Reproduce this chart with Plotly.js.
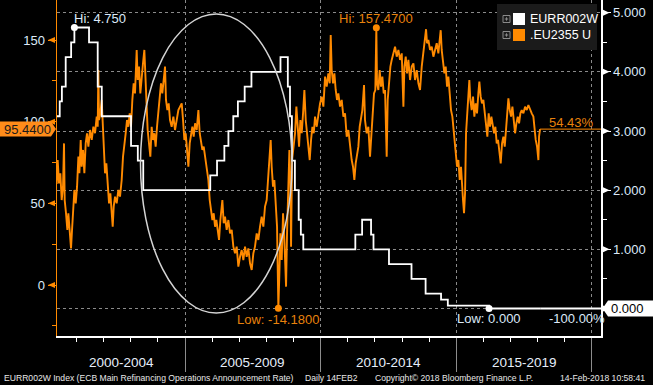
<!DOCTYPE html>
<html><head><meta charset="utf-8">
<script src="https://cdn.plot.ly/plotly-3.0.1.min.js"></script>
<style>html,body{margin:0;padding:0;background:#000;}#chart{width:653px;height:385px;}</style>
</head><body><div id="chart"></div>
<script>
// .EU2355 U (left axis) — decimal years and values
const spreadDates = [
2000.268,2000.305,2000.354,2000.403,2000.452,2000.501,2000.538,2000.563,2000.612,2000.661,2000.698,2000.747,2000.796,2000.833,2000.883,2000.919,2000.969,
2001.018,2001.067,2001.104,2001.153,2001.190,2001.239,2001.288,2001.337,2001.386,2001.436,2001.497,2001.559,2001.620,2001.681,2001.743,2001.780,2001.804,2001.829,2001.878,2001.927,2001.964,
2002.013,2002.050,2002.099,2002.149,2002.198,2002.247,2002.296,2002.333,2002.370,2002.419,2002.480,2002.542,2002.603,2002.665,2002.714,2002.763,2002.812,2002.861,2002.910,2002.960,
2003.009,2003.058,2003.107,2003.156,2003.218,2003.255,2003.304,2003.353,2003.402,2003.451,2003.501,2003.537,2003.587,2003.623,2003.673,2003.722,2003.771,2003.820,2003.869,2003.918,2003.968,
2004.017,2004.066,2004.115,2004.164,2004.213,2004.263,2004.299,2004.349,2004.398,2004.447,2004.508,2004.570,2004.631,2004.693,2004.754,2004.816,2004.877,2004.926,2004.975,
2005.024,2005.074,2005.123,2005.172,2005.221,2005.270,2005.319,2005.369,2005.430,2005.492,2005.541,2005.590,2005.639,2005.688,2005.737,2005.799,2005.860,2005.910,2005.959,
2006.008,2006.057,2006.106,2006.155,2006.204,2006.254,2006.303,2006.377,2006.426,2006.475,2006.536,2006.598,2006.659,2006.721,2006.782,2006.844,2006.905,2006.967,
2007.028,2007.090,2007.151,2007.213,2007.274,2007.336,2007.397,2007.459,2007.520,2007.581,2007.643,2007.704,2007.766,2007.827,2007.889,2007.950,
2008.012,2008.073,2008.122,2008.159,2008.196,2008.245,2008.294,2008.343,2008.393,2008.417,2008.442,2008.479,2008.516,2008.565,2008.614,2008.663,2008.725,2008.761,2008.810,2008.847,2008.884,2008.909,2008.946,2008.995,
2009.056,2009.105,2009.155,2009.204,2009.253,2009.302,2009.351,2009.400,2009.450,2009.499,2009.548,2009.597,2009.646,2009.696,2009.745,2009.794,2009.855,2009.917,2009.978,
2010.040,2010.101,2010.163,2010.224,2010.285,2010.335,2010.372,2010.408,2010.458,2010.507,2010.556,2010.605,2010.654,2010.716,2010.777,2010.839,2010.900,2010.962,
2011.023,2011.084,2011.146,2011.195,2011.244,2011.293,2011.343,2011.392,2011.441,2011.490,2011.539,2011.601,2011.637,2011.699,2011.760,2011.822,2011.871,2011.920,2011.969,
2012.018,2012.055,2012.080,2012.129,2012.178,2012.227,2012.277,2012.326,2012.375,2012.436,2012.473,2012.523,2012.572,2012.621,2012.682,2012.744,2012.805,2012.867,2012.928,2012.990,
2013.051,2013.088,2013.137,2013.186,2013.235,2013.297,2013.358,2013.420,2013.481,2013.543,2013.604,2013.665,2013.727,2013.788,2013.850,2013.887,2013.923,2013.973,
2014.034,2014.096,2014.157,2014.218,2014.280,2014.341,2014.391,2014.427,2014.464,2014.513,2014.563,2014.612,2014.661,2014.710,2014.759,2014.808,2014.858,2014.907,2014.944,2014.980,
2015.030,2015.079,2015.128,2015.177,2015.214,2015.251,2015.288,2015.325,2015.362,2015.398,2015.448,2015.484,2015.521,2015.570,2015.620,2015.669,2015.718,2015.767,2015.816,2015.853,2015.902,2015.951,
2016.001,2016.050,2016.099,2016.148,2016.197,2016.246,2016.296,2016.345,2016.394,2016.443,2016.492,2016.541,2016.591,2016.640,2016.689,2016.738,2016.787,2016.836,2016.886,2016.922,2016.972,
2017.021,2017.070,2017.119,2017.168,2017.217,2017.267,2017.316,2017.365,2017.414,2017.476,2017.537,2017.599,2017.660,2017.722,2017.783,2017.844,2017.881,2017.930,2017.980,
2018.029,2018.053,2018.090];
const spreadValues = [
61.8,76.5,62.2,68.4,52.0,60.2,86.7,52.0,43.9,33.7,43.9,29.6,22.4,33.7,52.0,58.2,50.0,
60.2,78.6,68.4,88.8,72.4,82.7,68.4,86.7,92.9,84.7,94.9,88.8,96.9,92.9,103.1,96.9,131.6,101.0,105.1,113.3,96.9,
78.6,68.4,74.5,60.2,50.0,56.1,43.9,35.7,48.0,54.1,50.0,58.2,54.1,64.3,78.6,84.7,92.9,101.0,96.9,105.1,
96.9,113.3,123.5,117.3,143.9,125.5,133.7,117.3,129.6,135.7,143.9,123.5,109.2,94.9,84.7,78.6,96.9,88.8,92.9,84.7,96.9,
107.1,115.3,123.5,117.3,125.5,133.7,113.3,107.1,111.2,101.0,96.9,103.1,94.9,101.0,107.1,109.2,111.2,101.0,88.8,
92.9,82.7,72.4,86.7,92.9,96.9,90.8,99.0,94.9,107.1,92.9,88.8,82.7,84.7,78.6,70.4,64.3,52.0,46.0,
39.8,43.9,35.7,39.8,31.6,27.6,39.8,52.0,37.8,41.8,33.7,39.8,31.6,33.7,23.5,19.4,23.5,11.2,
17.3,21.4,15.3,23.5,17.3,22.4,13.3,9.2,19.4,23.5,31.6,27.6,35.7,41.8,35.7,48.0,
52.0,68.4,76.5,88.8,72.4,60.2,64.3,52.0,35.7,11.2,-14.18,7.1,31.6,15.3,43.9,27.6,-1.0,31.6,60.2,82.7,62.2,23.5,76.5,84.7,
92.9,109.2,96.9,84.7,101.0,92.9,105.1,119.4,101.0,92.9,80.6,76.5,88.8,96.9,92.9,103.1,96.9,105.1,111.2,
115.3,109.2,127.6,121.4,129.6,123.5,153.1,131.6,123.5,129.6,119.4,113.3,117.3,109.2,113.3,103.1,105.1,90.8,
94.9,84.7,76.5,72.4,64.3,74.5,78.6,84.7,96.9,101.0,107.1,122.4,101.0,92.9,96.9,78.6,92.9,109.2,117.3,
119.4,157.47,123.5,119.4,131.6,121.4,127.6,117.3,119.4,78.6,113.3,127.6,133.7,137.8,141.8,145.9,139.8,143.9,137.8,141.8,
109.2,133.7,139.8,129.6,137.8,125.5,133.7,135.7,125.5,131.6,123.5,119.4,133.7,141.8,152.0,156.6,148.0,150.0,
143.9,145.9,139.8,143.9,148.0,141.8,150.0,156.0,143.9,137.8,129.6,133.7,121.4,127.6,117.3,107.1,103.1,92.9,84.7,80.6,
72.4,76.5,64.3,72.4,56.1,52.0,43.9,56.1,92.9,105.1,117.3,125.5,113.3,107.1,115.3,103.1,111.2,105.1,117.3,124.5,115.3,111.2,
113.3,105.1,99.0,90.8,105.1,96.9,103.1,96.9,92.9,96.9,86.7,88.8,82.7,74.5,86.7,90.8,84.7,94.9,105.1,114.3,107.1,
103.1,109.2,101.0,92.9,99.0,103.1,99.0,105.1,107.1,105.1,109.2,107.1,110.2,107.1,105.1,103.1,94.9,88.8,84.7,
76.5,90.8,95.44];

// EURR002W — ECB main refinancing rate (right axis), step changes
const rateDates = [2000.26,2000.38,2000.46,2000.60,2000.80,2000.92,2001.46,2001.78,2001.93,2003.01,2003.26,2003.46,
2005.93,2006.18,2006.45,2006.60,2006.78,2006.95,2007.20,2007.45,2008.52,2008.79,2008.87,2008.94,2009.05,2009.19,2009.27,2009.36,
2011.28,2011.53,2011.86,2011.95,2012.52,2013.35,2013.87,2014.44,2014.69,2016.21,2018.12];
const rateValues = [3.25,3.50,3.75,4.25,4.50,4.75,4.50,3.75,3.25,2.75,2.50,2.00,
2.25,2.50,2.75,3.00,3.25,3.50,3.75,4.00,4.25,3.75,3.25,2.50,2.00,1.50,1.25,1.00,
1.25,1.50,1.25,1.00,0.75,0.50,0.25,0.15,0.05,0.00,0.00];

const periodLabels = ['2000-2004','2005-2009','2010-2014','2015-2019'];
const periodCenters = [2002.64,2007.5,2012.5,2017.5];
const leftTicks = [0,50,100,150];
const leftMinor = [-25,25,75,125];
const rightTicks = [0,1,2,3,4,5];
const rightMinor = [0.5,1.5,2.5,3.5,4.5];
const seriesNames = ['EURR002W','.EU2355 U'];
const footer = ['EURR002W Index (ECB Main Refinancing Operations Announcement Rate)','Daily 14FEB2','Copyright\u00a9 2018 Bloomberg Finance L.P.','14-Feb-2018 10:58:41'];

const X_RANGE = [2000.280, 2020.338];
const L_RANGE = [-31.22, 174.49];
const R_RANGE = [-0.465, 5.215];
const ORANGE = '#ff8a00', ORANGE_TXT = '#e8820c', LIGHT = '#dce9f8', GRID = '#8a8a8a';
const FONT = 'Liberation Sans, Arial, sans-serif';
const ML = 57, MR = 52, MB = 49, W = 653, H = 385, PW = W - ML - MR, PH = H - MB;

function toDate(t){ const y = Math.floor(t); const a = Date.UTC(y,0,1), b = Date.UTC(y+1,0,1);
  return new Date(a + (t - y)*(b - a)).toISOString().replace('T',' ').slice(0,19); }
const px = p => (p - ML)/PW;            // pixel x -> paper
const py = p => (PH - p)/PH;            // pixel y -> paper
const pL = v => (v - L_RANGE[0])/(L_RANGE[1]-L_RANGE[0]);
const pR = v => (v - R_RANGE[0])/(R_RANGE[1]-R_RANGE[0]);

const sx = spreadDates.map(toDate), rx = rateDates.map(toDate);
const xEnd = toDate(X_RANGE[1]);
let iHi = 0, iLo = 0;
spreadValues.forEach((v,i)=>{ if (v > spreadValues[iHi]) iHi = i; if (v < spreadValues[iLo]) iLo = i; });
let rHi = 0, rLo = 0;
rateValues.forEach((v,i)=>{ if (v > rateValues[rHi]) rHi = i; if (v < rateValues[rLo]) rLo = i; });
const sLast = spreadValues[spreadValues.length-1], rLast = rateValues[rateValues.length-1];
const sPct = (sLast/spreadValues[0]-1)*100, rPct = (rLast/rateValues[0]-1)*100;

const traces = [
  {x: sx, y: spreadValues, type:'scatter', mode:'lines', line:{color:ORANGE, width:1.9}, yaxis:'y', hoverinfo:'skip'},
  {x: [sx[sx.length-1], xEnd], y: [sLast, sLast], type:'scatter', mode:'lines', line:{color:ORANGE, width:1}, yaxis:'y'},
  {x: [sx[iHi], sx[iLo]], y: [spreadValues[iHi], spreadValues[iLo]], type:'scatter', mode:'markers', marker:{color:ORANGE, size:7}, yaxis:'y'},
  {x: rx, y: rateValues, type:'scatter', mode:'lines', line:{color:'#ffffff', width:1.8, shape:'hv'}, yaxis:'y2'},
  {x: [rx[rx.length-1], xEnd], y: [rLast, rLast], type:'scatter', mode:'lines', line:{color:'#ffffff', width:1.8}, yaxis:'y2'},
  {x: [rx[rHi], rx[rLo]], y: [rateValues[rHi], rateValues[rLo]], type:'scatter', mode:'markers', marker:{color:'#ffffff', size:7}, yaxis:'y2'}
];

const shapes = [];
// ellipse
shapes.push({type:'circle', xref:'paper', yref:'paper', x0:px(140.5), x1:px(292), y0:py(313), y1:py(14), line:{color:'#d4d4d4', width:1.5}});
// left axis pointers
leftTicks.forEach(v=>{ const c = pL(v), d = 3/PH;
  shapes.push({type:'path', xref:'paper', yref:'paper', path:`M ${px(55)},${c+d} L ${px(48)},${c} L ${px(55)},${c-d} Z`, fillcolor:ORANGE, line:{width:0}}); });
// right axis pointers
rightTicks.forEach(v=>{ const c = pR(v), d = 3/PH;
  shapes.push({type:'path', xref:'paper', yref:'paper', path:`M ${px(603)},${c+d} L ${px(609.5)},${c} L ${px(603)},${c-d} Z`, fillcolor:'#ffffff', line:{width:0}}); });
// last value boxes
{ const c = pL(sLast), h = 7.5/PH;
  shapes.push({type:'path', xref:'paper', yref:'paper', path:`M ${px(0)},${c+h} L ${px(51)},${c+h} L ${px(56)},${c} L ${px(51)},${c-h} L ${px(0)},${c-h} Z`, fillcolor:'#ff8c1a', line:{width:0}}); }
{ const c = pR(rLast), h = 8/PH;
  shapes.push({type:'path', xref:'paper', yref:'paper', path:`M ${px(602.5)},${c} L ${px(608)},${c+h} L ${px(660)},${c+h} L ${px(660)},${c-h} L ${px(608)},${c-h} Z`, fillcolor:'#ffffff', line:{width:0}}); }
// legend box
shapes.push({type:'rect', xref:'paper', yref:'paper', x0:px(497), x1:px(597), y0:py(50), y1:py(4), fillcolor:'#1b1b1b', line:{width:0}});
[[13,25,'#ffffff'],[29,41,ORANGE]].forEach(([t,b,col])=>{
  shapes.push({type:'rect', xref:'paper', yref:'paper', x0:px(513), x1:px(525), y0:py(b), y1:py(t), fillcolor:col, line:{width:0}});
  const cy = (t+b)/2;
  shapes.push({type:'rect', xref:'paper', yref:'paper', x0:px(503), x1:px(510), y0:py(cy+3.5), y1:py(cy-3.5), line:{color:'#8a8a8a', width:1}});
  shapes.push({type:'line', xref:'paper', yref:'paper', x0:px(504.8), x1:px(508.2), y0:py(cy), y1:py(cy), line:{color:'#8a8a8a', width:1}});
  shapes.push({type:'line', xref:'paper', yref:'paper', x0:px(506.5), x1:px(506.5), y0:py(cy+1.7), y1:py(cy-1.7), line:{color:'#8a8a8a', width:1}});
});

const ann = [];
const txt = (o)=>Object.assign({showarrow:false, font:{family:FONT, size:13, color:LIGHT}}, o);
ann.push(txt({x:rx[rHi], y:rateValues[rHi], xref:'x', yref:'y2', text:'Hi: '+rateValues[rHi].toFixed(3), xanchor:'left', yanchor:'middle', xshift:-2, yshift:9.5}));
ann.push(txt({x:rx[rLo], y:rateValues[rLo], xref:'x', yref:'y2', text:'Low: '+rateValues[rLo].toFixed(3), xanchor:'center', yanchor:'middle', yshift:-10.5}));
ann.push(txt({x:sx[iHi], y:spreadValues[iHi], xref:'x', yref:'y', text:'Hi: '+spreadValues[iHi].toFixed(4), xanchor:'center', yanchor:'middle', yshift:9.5, font:{family:FONT, size:13, color:ORANGE_TXT}}));
ann.push(txt({x:sx[iLo], y:spreadValues[iLo], xref:'x', yref:'y', text:'Low: '+spreadValues[iLo].toFixed(4), xanchor:'center', yanchor:'middle', yshift:-11, font:{family:FONT, size:13, color:ORANGE_TXT}}));
ann.push(txt({x:px(547), y:pL(sLast), xref:'paper', yref:'paper', text:sPct.toFixed(2)+'%', xanchor:'left', yanchor:'middle', yshift:7, font:{family:FONT, size:13, color:ORANGE_TXT}}));
ann.push(txt({x:px(547), y:pR(rLast), xref:'paper', yref:'paper', text:rPct.toFixed(2)+'%', xanchor:'left', yanchor:'middle', yshift:-10.5}));
ann.push(txt({x:px(2), y:pL(sLast), xref:'paper', yref:'paper', text:sLast.toFixed(4), xanchor:'left', yanchor:'middle', font:{family:FONT, size:13, color:'#1a1a1a'}}));
ann.push(txt({x:px(609), y:pR(rLast), xref:'paper', yref:'paper', text:rLast.toFixed(3), xanchor:'left', yanchor:'middle', font:{family:FONT, size:13, color:'#000000'}}));
periodLabels.forEach((l,i)=>ann.push(txt({x:toDate(periodCenters[i]), y:py(362), xref:'x', yref:'paper', text:l, xanchor:'center', yanchor:'middle', font:{family:FONT, size:13.5, color:'#e6eefa'}})));
seriesNames.forEach((n,i)=>ann.push(txt({x:px(528), y:py(19+16*i), xref:'paper', yref:'paper', text:n, xanchor:'left', yanchor:'middle', font:{family:FONT, size:12.5, color:'#ffffff'}})));
[2,303,373,558].forEach((p,i)=>ann.push(txt({x:px(p), y:py(378), xref:'paper', yref:'paper', text:footer[i], xanchor:'left', yanchor:'middle', font:{family:FONT, size:8.6, color:'#e8e8e8'}})));

const layout = {
  width:W, height:H, margin:{l:ML, r:MR, t:0, b:MB, pad:0},
  paper_bgcolor:'#000', plot_bgcolor:'#000', showlegend:false,
  font:{family:FONT, size:13, color:LIGHT},
  xaxis:{type:'date', range:[toDate(X_RANGE[0]), toDate(X_RANGE[1])], tickmode:'linear', dtick:'M60', tick0:'2000-01-01',
    ticks:'outside', ticklen:34, tickcolor:'#8c8c8c', tickwidth:1, showticklabels:false,
    showgrid:true, gridcolor:GRID, griddash:'3px,3px', gridwidth:1, zeroline:false,
    showline:true, linecolor:'#ffffff', linewidth:1.5,
    minor:{tickmode:'linear', dtick:'M12', tick0:'2000-01-01', ticks:'outside', ticklen:4, tickcolor:'#ffffff', showgrid:false}},
  yaxis:{range:L_RANGE, tickmode:'array', tickvals:leftTicks, ticks:'outside', ticklen:8, tickcolor:ORANGE, tickwidth:1,
    showgrid:false, zeroline:false, showline:true, linecolor:ORANGE, linewidth:1.5,
    tickfont:{family:FONT, size:13, color:LIGHT},
    minor:{tickmode:'array', tickvals:leftMinor, ticks:'outside', ticklen:4, tickcolor:ORANGE, showgrid:false}},
  yaxis2:{range:R_RANGE, overlaying:'y', side:'right', tickmode:'array', tickvals:rightTicks,
    ticktext:rightTicks.map(v=> v===0 ? '' : v.toFixed(3)), ticks:'outside', ticklen:8, tickcolor:'#ffffff', tickwidth:1,
    showgrid:true, gridcolor:GRID, griddash:'3px,3px', gridwidth:1, zeroline:false,
    showline:true, linecolor:'#ffffff', linewidth:1.5,
    tickfont:{family:FONT, size:13, color:LIGHT},
    minor:{tickmode:'array', tickvals:rightMinor, ticks:'outside', ticklen:4, tickcolor:'#ffffff', showgrid:false}},
  shapes:shapes, annotations:ann
};
Plotly.newPlot('chart', traces, layout, {staticPlot:true, displayModeBar:false});
</script></body></html>
